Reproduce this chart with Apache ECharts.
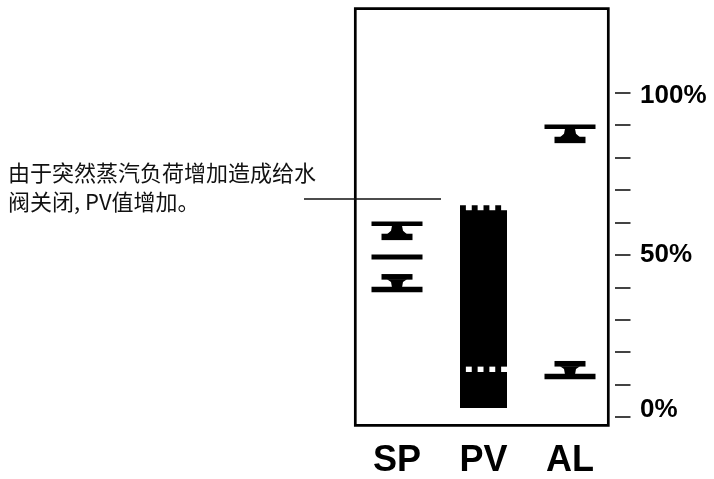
<!DOCTYPE html>
<html>
<head>
<meta charset="utf-8">
<title>SP PV AL</title>
<script src="https://cdn.jsdelivr.net/npm/echarts@6/dist/echarts.min.js"></script>
<style>
  html, body { margin: 0; padding: 0; background: #fff; }
  #main { width: 714px; height: 479px; }
</style>
</head>
<body>
<div id="main"></div>
<script>
// 数据
const categories = ['SP', 'PV', 'AL'];
const highLimit = [59.6, null, 89.5];   // 上限标记（宽条在上）
const lowLimit = [39.3, null, 12.5];    // 下限标记（宽条在下）
const setPoint = [49.3, null, null];    // 设定值
const pvRange = [2.8, 65.3];            // PV 柱 底/顶
const pvMark = 14.7;                    // PV 柱中白色虚线
const yTicks = [0, 50, 100];            // 显示的刻度标签

const FONT = '"Liberation Sans", Arial, Helvetica, sans-serif';

// 组装 custom series 的数据
const toPairs = (arr) => arr.map((v, i) => v == null ? null : [i, v]).filter(d => d);
const highData = toPairs(highLimit);
const lowData = toPairs(lowLimit);
const setData = toPairs(setPoint);
const pvData = [[categories.indexOf('PV'), pvRange[0], pvRange[1], pvMark]];

const rect = (x, y, w, h, fill) => ({ type: 'rect', shape: { x, y, width: w, height: h }, style: { fill } });

// 上限：宽条 + 柱脚 + 窄条
function renderHigh(params, api) {
  const p = api.coord([api.value(0), api.value(1)]);
  const x = p[0], y = p[1];
  return {
    type: 'group',
    children: [
      rect(x - 25.5, y - 2.3, 51, 4.6, '#000'),
      { type: 'polygon', shape: { points: [[x - 5, y + 2], [x + 5, y + 2], [x + 6, y + 7], [x + 10, y + 10.5], [x - 10, y + 10.5], [x - 6, y + 7]] }, style: { fill: '#000' } },
      rect(x - 15.5, y + 10, 31, 6.4, '#000')
    ]
  };
}

// 下限：窄条 + 柱脚 + 宽条
function renderLow(params, api) {
  const p = api.coord([api.value(0), api.value(1)]);
  const x = p[0], y = p[1];
  return {
    type: 'group',
    children: [
      rect(x - 15.5, y - 15.5, 31, 5.6, '#000'),
      { type: 'polygon', shape: { points: [[x - 10, y - 10.2], [x + 10, y - 10.2], [x + 6, y - 7.5], [x + 5, y - 2], [x - 5, y - 2], [x - 6, y - 7.5]] }, style: { fill: '#000' } },
      rect(x - 25.5, y - 2.7, 51, 5.4, '#000')
    ]
  };
}

// PV 柱：顶部锯齿 + 中间白色虚线
function renderPV(params, api) {
  const x = api.coord([api.value(0), 0])[0];
  const yb = api.coord([api.value(0), api.value(1)])[1];
  const yt = api.coord([api.value(0), api.value(2)])[1];
  const ym = api.coord([api.value(0), api.value(3)])[1];
  const w = 47, seg = w / 8, left = x - w / 2;
  const children = [rect(left, yt, w, yb - yt, '#000')];
  for (let i = 1; i < 8; i += 2) {
    children.push(rect(left + i * seg, yt - 0.5, seg, 5.5, '#fff'));
    children.push(rect(left + i * seg, ym - 2.7, seg, 5.4, '#fff'));
  }
  return { type: 'group', children };
}

const myChart = echarts.init(document.getElementById('main'));

myChart.setOption({
  animation: false,
  backgroundColor: '#fff',
  grid: [
    // 数据区
    { left: 353.75, right: 100.75, top: 92.7, bottom: 61.5 },
    // 外框
    { left: 355.3, right: 105.7, top: 8.7, bottom: 53.7, show: true, borderColor: '#000', borderWidth: 2.7, backgroundColor: 'transparent' }
  ],
  xAxis: [
    {
      type: 'category',
      gridIndex: 0,
      data: categories,
      axisLine: { show: false },
      axisTick: { show: false },
      axisLabel: {
        margin: 26,
        color: '#000',
        fontSize: 36,
        fontWeight: 'bold',
        fontFamily: FONT
      }
    },
    { type: 'value', gridIndex: 1, show: false }
  ],
  yAxis: [
    {
      type: 'value',
      gridIndex: 0,
      position: 'right',
      offset: 1.75,
      min: 0,
      max: 100,
      interval: 10,
      axisLine: { show: false },
      axisTick: { show: true, length: 15.5, lineStyle: { color: '#222', width: 1.7 } },
      splitLine: { show: false },
      axisLabel: {
        margin: 25,
        color: '#000',
        fontSize: 26,
        fontWeight: 'bold',
        fontFamily: FONT,
        formatter: (v) => {
          if (!yTicks.includes(v)) return '';
          if (v === 0) return '{lo|0%}';
          if (v === 100) return '{hi|100%}';
          return v + '%';
        },
        rich: {
          lo: { padding: [0, 0, 14, 0], color: '#000', fontSize: 26, fontWeight: 'bold', fontFamily: FONT },
          hi: { padding: [6, 0, 0, 0], color: '#000', fontSize: 26, fontWeight: 'bold', fontFamily: FONT }
        }
      }
    },
    { type: 'value', gridIndex: 1, show: false }
  ],
  series: [
    { name: 'PV', type: 'custom', xAxisIndex: 0, yAxisIndex: 0, renderItem: renderPV, data: pvData },
    { name: 'high', type: 'custom', xAxisIndex: 0, yAxisIndex: 0, renderItem: renderHigh, data: highData },
    { name: 'low', type: 'custom', xAxisIndex: 0, yAxisIndex: 0, renderItem: renderLow, data: lowData },
    {
      name: 'set',
      type: 'scatter',
      xAxisIndex: 0,
      yAxisIndex: 0,
      symbol: 'rect',
      symbolSize: [51, 5],
      itemStyle: { color: '#000', opacity: 1 },
      data: setData
    }
  ],
  graphic: [
    {
      type: 'text',
      left: 8,
      top: 158,
      style: {
        text: '由于突然蒸汽负荷增加造成给水\n阀关闭, PV值增加。',
        fill: '#111',
        font: '22px "Noto Sans CJK SC", sans-serif',
        lineHeight: 29
      }
    },
    {
      type: 'line',
      shape: { x1: 304, y1: 199, x2: 441, y2: 199 },
      style: { stroke: '#111', lineWidth: 1.3 }
    }
  ]
});
</script>
</body>
</html>
